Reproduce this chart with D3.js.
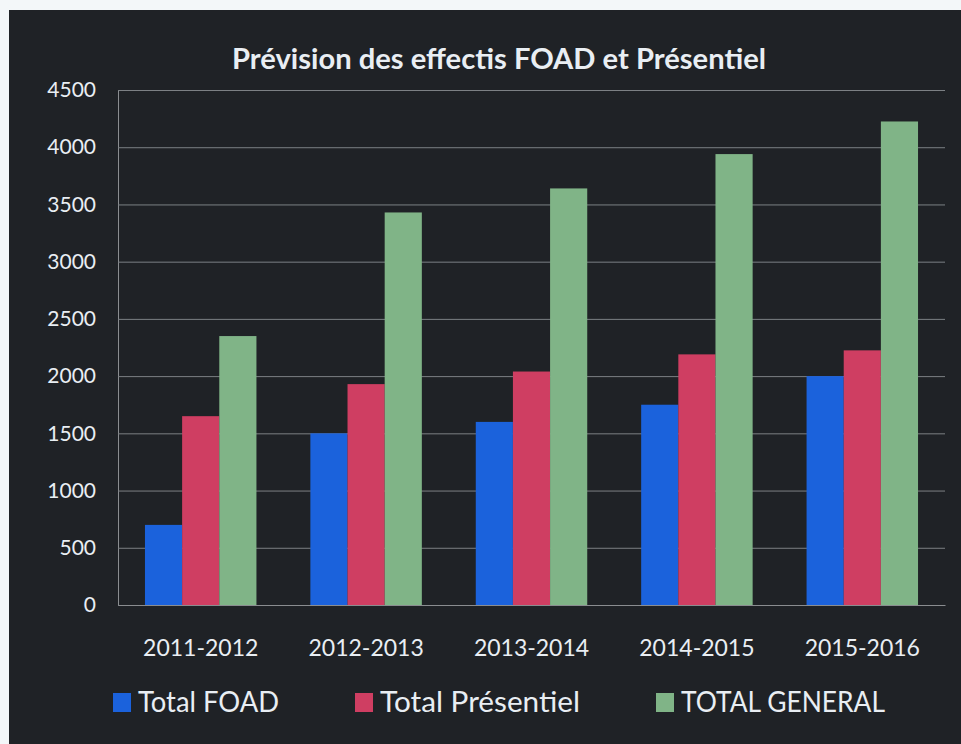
<!DOCTYPE html>
<html>
<head>
  <meta charset="UTF-8">
  <title>Prévision des effectis FOAD et Présentiel</title>
  <script src="https://d3js.org/d3.v7.min.js"></script>
  <style>
    body {
      margin: 0;
      padding: 0;
      background-color: #f3f7f9;
    }
    svg text {
      font-family: Lato, 'Open Sans', sans-serif;
      fill: #e9eef3;
    }
  </style>
</head>
<body>
  <svg id="chart"></svg>
  <script>
    const years = ["2011-2012", "2012-2013", "2013-2014", "2014-2015", "2015-2016"];
    const seriesNames = ["Total FOAD", "Total Présentiel", "TOTAL GENERAL"];
    const totalFoad = [700, 1500, 1600, 1750, 2000];
    const totalPresentiel = [1650, 1930, 2040, 2190, 2225];
    const totalGeneral = [2350, 3430, 3640, 3940, 4225];
    const yTicks = [0, 500, 1000, 1500, 2000, 2500, 3000, 3500, 4000, 4500];
    const colors = ["#1b62dc", "#cf3e62", "#80b487"];

    const W = 961, H = 744;
    const m = {top: 90, left: 118, right: 16, bottom: 139};
    const width = W - m.left - m.right;
    const height = H - m.top - m.bottom;

    const table = years.map(function(y, i) {
      return {year: y, values: [totalFoad[i], totalPresentiel[i], totalGeneral[i]]};
    });

    const svg = d3.select("#chart")
      .attr("width", W)
      .attr("height", H)
      .style("display", "block");

    // dark panel (scanned slide)
    svg.append("rect")
      .attr("x", 9)
      .attr("y", 10)
      .attr("width", W - 9)
      .attr("height", H - 10)
      .attr("fill", "#1f2226");

    const g = svg.append("g")
      .attr("transform", `translate(${m.left},${m.top})`);

    const x0 = d3.scaleBand()
      .domain(years)
      .range([0, width]);

    const x1 = d3.scaleBand()
      .domain(d3.range(seriesNames.length))
      .range([x0.bandwidth() * 0.163, x0.bandwidth() * 0.837]);

    const y = d3.scaleLinear()
      .domain([0, 4500])
      .range([height, 0]);

    const yAxis = g.append("g")
      .call(d3.axisLeft(y).tickValues(yTicks).tickFormat(d3.format("d")).tickSize(-width).tickPadding(22));
    yAxis.select(".domain").attr("stroke", "#8a8d90");
    yAxis.selectAll(".tick line").attr("stroke", "#7c8084");
    yAxis.selectAll(".tick text")
      .style("font-size", "21px")
      .attr("fill", "#e9eef3");

    g.selectAll(".grp")
      .data(table)
      .enter().append("g")
      .attr("class", "grp")
      .attr("transform", function(d) { return `translate(${x0(d.year)},0)`; })
      .selectAll("rect")
      .data(function(d) { return d.values; })
      .enter().append("rect")
      .attr("x", function(d, i) { return x1(i); })
      .attr("width", x1.bandwidth())
      .attr("y", function(d) { return y(d); })
      .attr("height", function(d) { return height - y(d); })
      .attr("fill", function(d, i) { return colors[i]; });

    const xAxis = g.append("g")
      .attr("transform", `translate(0,${height})`)
      .call(d3.axisBottom(x0).tickSize(0).tickPadding(35));
    xAxis.select(".domain").attr("stroke", "#8a8d90");
    xAxis.selectAll(".tick text")
      .style("font-size", "23px")
      .attr("fill", "#e9eef3");

    svg.append("text")
      .attr("x", 499)
      .attr("y", 69)
      .attr("text-anchor", "middle")
      .style("font-size", "28px")
      .style("font-weight", "bold")
      .attr("textLength", 534)
      .attr("lengthAdjust", "spacingAndGlyphs")
      .text("Prévision des effectis FOAD et Présentiel");

    const legendX = [113, 355, 656];
    const legendW = [141, 200, 204];
    const legend = svg.selectAll(".leg")
      .data(seriesNames)
      .enter().append("g")
      .attr("class", "leg")
      .attr("transform", function(d, i) { return `translate(${legendX[i]},693)`; });
    legend.append("rect")
      .attr("width", 18)
      .attr("height", 19)
      .attr("fill", function(d, i) { return colors[i]; });
    legend.append("text")
      .attr("x", 25)
      .attr("y", 19)
      .style("font-size", "28px")
      .attr("textLength", function(d, i) { return legendW[i]; })
      .attr("lengthAdjust", "spacingAndGlyphs")
      .text(function(d) { return d; });
  </script>
</body>
</html>
